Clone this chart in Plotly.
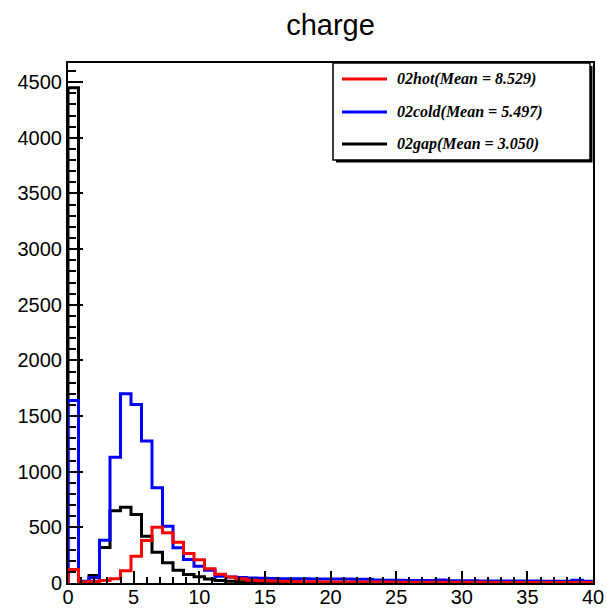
import plotly.graph_objects as go

# ---- data ----
bin_low = 0.0
bin_width = 0.8
n_bins = 50
bin_edges = [round(bin_low + i * bin_width, 4) for i in range(n_bins + 1)]

series_names = ["02hot", "02cold", "02gap"]
series_means = ["8.529", "5.497", "3.050"]

hot_counts = [121, 10, 14, 22, 38, 110, 241, 382, 502, 451,
              367, 265, 208, 127, 78, 55, 38, 25, 20, 17,
              15, 13, 12, 11, 10, 10, 9, 9, 8, 8,
              8, 7, 7, 7, 7, 6, 6, 6, 6, 6,
              5, 5, 5, 5, 5, 5, 4, 4, 4, 4]
cold_counts = [1640, 15, 47, 385, 1131, 1701, 1605, 1275, 856, 511,
               316, 211, 151, 115, 61, 54, 49, 45, 42, 40,
               39, 38, 38, 37, 36, 36, 35, 34, 33, 27,
               25, 24, 23, 23, 22, 28, 21, 20, 20, 19,
               19, 18, 18, 17, 17, 16, 16, 16, 24, 15]
gap_counts = [4450, 5, 67, 320, 650, 680, 615, 420, 277, 181,
              115, 76, 56, 35, 22, 15, 11, 9, 8, 7,
              6, 6, 5, 5, 5, 4, 4, 4, 4, 3,
              3, 3, 3, 3, 3, 2, 2, 2, 2, 2,
              2, 2, 2, 2, 1, 1, 1, 1, 1, 1]

x_tick_vals = [0, 5, 10, 15, 20, 25, 30, 35, 40]
y_tick_vals = [0, 500, 1000, 1500, 2000, 2500, 3000, 3500, 4000, 4500]

colors = {"02hot": "#ff0000", "02cold": "#0000ff", "02gap": "#000000"}
counts = {"02hot": hot_counts, "02cold": cold_counts, "02gap": gap_counts}

fig = go.Figure()


def step_xy(vals):
    xs = [bin_edges[0]] + bin_edges[:-1] + [bin_edges[-1], bin_edges[-1]]
    ys = [0] + list(vals) + [vals[-1], 0]
    return xs, ys


# draw order: gap, cold, hot (hot on top)
for name in ["02gap", "02cold", "02hot"]:
    xs, ys = step_xy(counts[name])
    fig.add_trace(go.Scatter(x=xs, y=ys, mode="lines", line_shape="hv",
                             line=dict(color=colors[name], width=3),
                             name=name, showlegend=False, hoverinfo="skip"))

ymax = max(gap_counts) * 1.05

# geometry (pixels)
W, H = 606, 609
L, R, T, B = 68, 13, 63, 25.5
pw = W - L - R
ph = H - T - B


def px_x(p):
    return (p - L) / pw


def px_y(p):
    return (H - B - p) / ph


shapes = []
annotations = []

# legend box with shadow
shapes.append(dict(type="rect", xref="paper", yref="paper",
                   x0=px_x(336), x1=px_x(592.5), y0=px_y(162.5), y1=px_y(66),
                   fillcolor="black", line=dict(width=0), layer="above"))
shapes.append(dict(type="rect", xref="paper", yref="paper",
                   x0=px_x(333), x1=px_x(590), y0=px_y(160), y1=px_y(63),
                   fillcolor="white", line=dict(color="black", width=1.5), layer="above"))

row_y = [79, 112, 144]
for i, name in enumerate(series_names):
    yy = px_y(row_y[i])
    shapes.append(dict(type="line", xref="paper", yref="paper",
                       x0=px_x(342), x1=px_x(387), y0=yy, y1=yy,
                       line=dict(color=colors[name], width=3), layer="above"))
    annotations.append(dict(xref="paper", yref="paper", x=px_x(395), y=yy,
                            xanchor="left", yanchor="middle", showarrow=False,
                            text="<b><i>%s(Mean = %s)</i></b>" % (name, series_means[i]),
                            font=dict(family="Liberation Serif, Times New Roman, serif",
                                      size=16, color="black")))

axis_font = dict(family="Liberation Sans, Arial, Helvetica, sans-serif", size=20, color="black")

fig.update_layout(
    width=W, height=H,
    margin=dict(l=L, r=R, t=T, b=B, autoexpand=False),
    paper_bgcolor="white", plot_bgcolor="white",
    title=dict(text="charge", x=0.5, xref="paper", xanchor="center",
               y=1 - 25 / H, yref="container", yanchor="middle",
               font=dict(family="Liberation Sans, Arial, Helvetica, sans-serif", size=29, color="black")),
    xaxis=dict(range=[bin_edges[0], bin_edges[-1]], tickvals=x_tick_vals,
               ticktext=[str(v) for v in x_tick_vals],
               ticks="inside", ticklen=12, tickwidth=2, tickcolor="black",
               minor=dict(dtick=1, ticks="inside", ticklen=6, tickwidth=2, tickcolor="black"),
               showline=True, linecolor="black", linewidth=2, mirror=True,
               showgrid=False, zeroline=False, tickfont=axis_font, automargin=False,
               ticklabelstandoff=-5),
    yaxis=dict(range=[0, ymax], tickvals=y_tick_vals,
               ticktext=[str(v) for v in y_tick_vals],
               ticks="inside", ticklen=15, tickwidth=2, tickcolor="black",
               minor=dict(dtick=100, ticks="inside", ticklen=8, tickwidth=2, tickcolor="black"),
               showline=True, linecolor="black", linewidth=2, mirror=True,
               showgrid=False, zeroline=False, tickfont=axis_font, automargin=False),
    shapes=shapes,
    annotations=annotations,
    showlegend=False,
)

fig.write_html("out.html", config={"displayModeBar": False})

# remove the default page margin so the figure fills the window exactly
with open("out.html", "r", encoding="utf-8") as f:
    html = f.read()
html = html.replace("<head>", "<head><style>html,body{margin:0;padding:0;overflow:hidden;}</style>", 1)
with open("out.html", "w", encoding="utf-8") as f:
    f.write(html)
